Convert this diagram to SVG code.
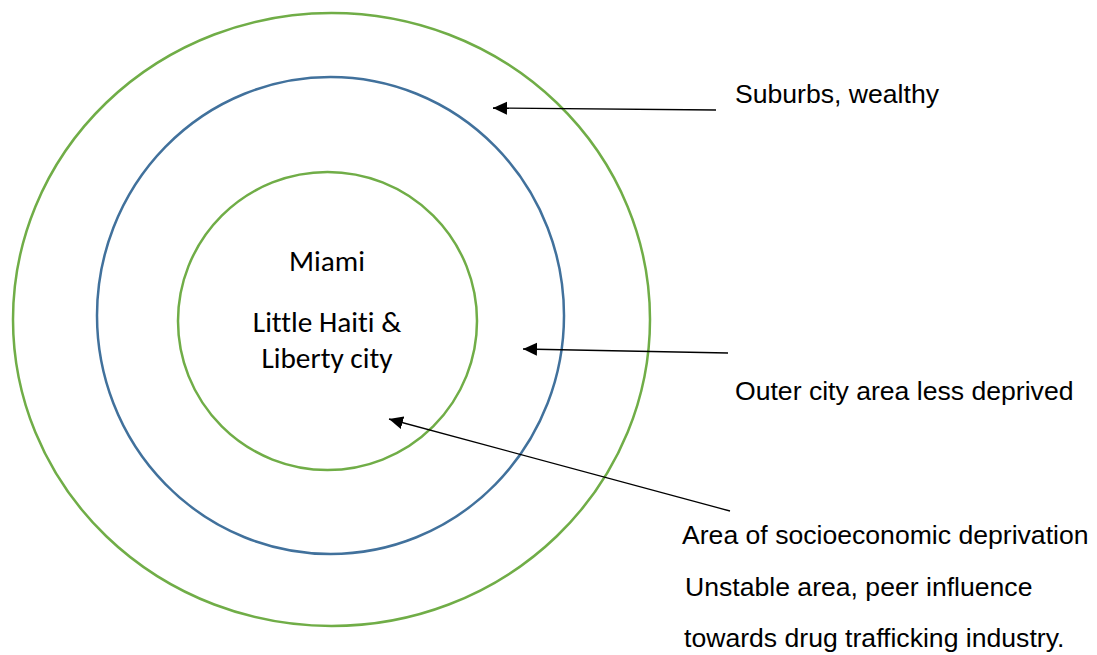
<svg xmlns="http://www.w3.org/2000/svg" width="1097" height="655" viewBox="0 0 1097 655">
  <style>
    .ring { fill: none; stroke-width: 2.5; }
    .green { stroke: #70AD47; }
    .blue { stroke: #41719C; }
    .conn { stroke: #000; stroke-width: 1.3; fill: none; marker-end: url(#arrow); }
    .label { font-family: "Liberation Sans", Arial, sans-serif; font-size: 26.6px; fill: #000; }
    .core { font-family: Carlito, Lato, "Open Sans", sans-serif; font-size: 29.3px; fill: #000; text-anchor: middle; font-variant-ligatures: none; }
  </style>
  <defs>
    <marker id="arrow" markerUnits="userSpaceOnUse" markerWidth="16" markerHeight="14" refX="14" refY="6.5" orient="auto">
      <path d="M0,0 L14,6.5 L0,13 z" fill="#000"/>
    </marker>
  </defs>
  <rect width="1097" height="655" fill="#fff"/>

  <!-- concentric zones -->
  <g id="zone-suburbs">
    <ellipse class="ring green" cx="331.5" cy="319.5" rx="318.5" ry="306.5"/>
  </g>
  <g id="zone-outer-city">
    <ellipse class="ring blue" cx="330.5" cy="315.5" rx="233.5" ry="238.5"/>
  </g>
  <g id="zone-inner-city">
    <ellipse class="ring green" cx="327.5" cy="321" rx="149.5" ry="149"/>
    <text class="core" x="327" y="271">Miami</text>
    <text class="core" x="327" y="332">Little Haiti &amp;</text>
    <text class="core" x="327" y="368">Liberty city</text>
  </g>

  <!-- pointers from the labels to each zone -->
  <g id="connectors">
    <line class="conn" x1="716" y1="110" x2="493" y2="108"/>
    <line class="conn" x1="728" y1="353" x2="523" y2="349"/>
    <line class="conn" x1="730" y1="511" x2="389" y2="419"/>
  </g>

  <g id="label-suburbs">
    <text class="label" x="735" y="103">Suburbs, wealthy</text>
  </g>
  <g id="label-outer-city">
    <text class="label" x="735" y="400">Outer city area less deprived</text>
  </g>
  <g id="label-inner-city">
    <text class="label" x="682" y="544">Area of socioeconomic deprivation</text>
    <text class="label" x="685" y="596">Unstable area, peer influence</text>
    <text class="label" x="684" y="647">towards drug trafficking industry.</text>
  </g>
</svg>
